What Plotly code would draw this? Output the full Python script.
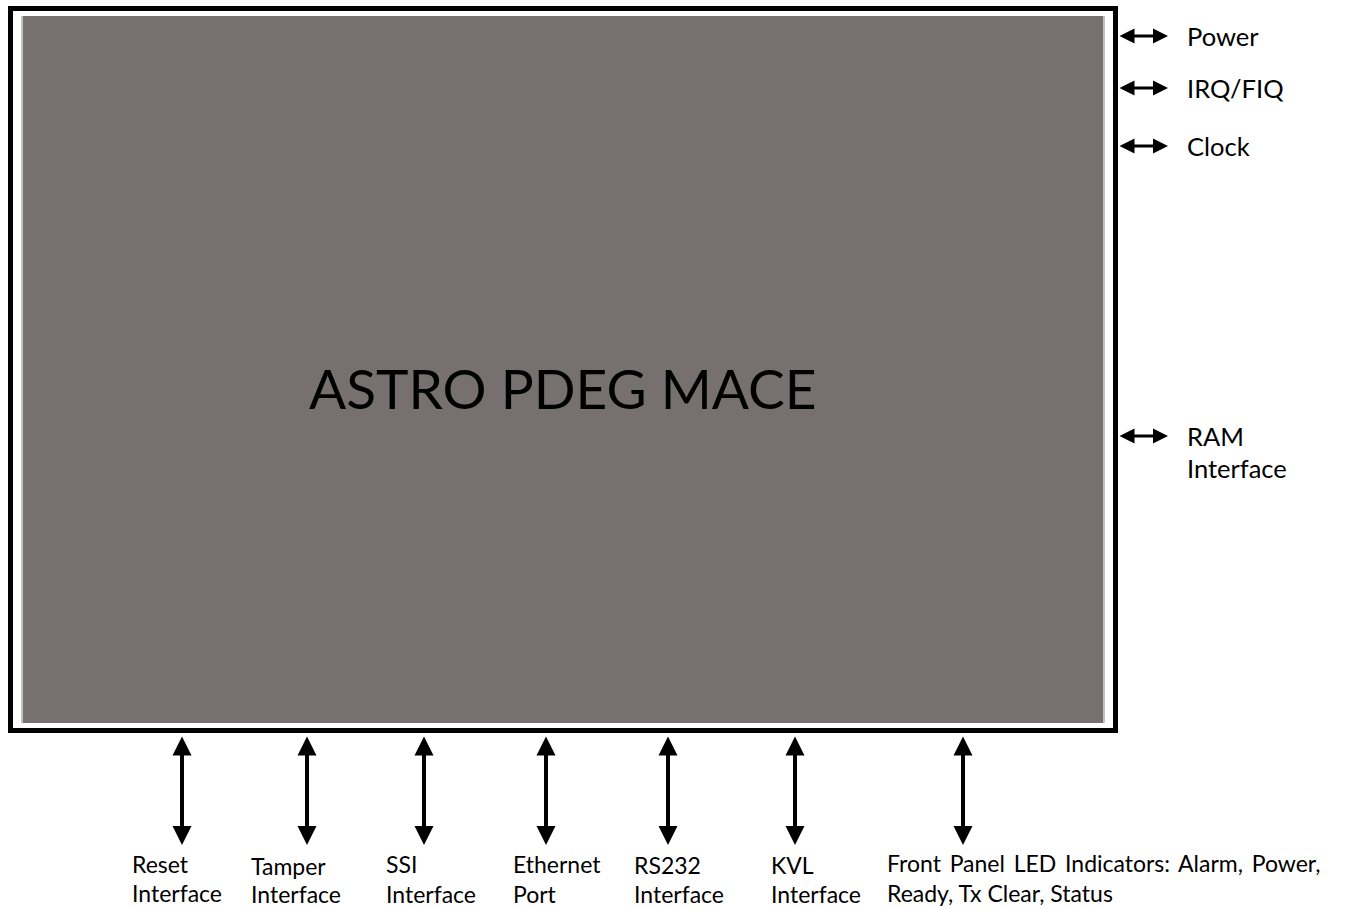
import plotly.graph_objects as go

W, H = 1354, 909
FONT = "Lato"

# Block
block_title = "ASTRO PDEG MACE"
outer_box = dict(x0=10.5, y0=8.5, x1=1115.5, y1=730.5)
inner_box = dict(x0=22, y0=16, x1=1104, y1=723)
fill_color = "#767170"
edge_color = "#c4c2c1"

# Right-side interfaces (label lines, arrow y)
right_labels = [["Power"], ["IRQ/FIQ"], ["Clock"], ["RAM", "Interface"]]
right_arrow_y = [36, 88, 146, 436]
right_arrow_x = (1118, 1168)
right_text_x = 1186
right_line_gap = 32

# Bottom interfaces
bottom_labels = [["Reset", "Interface"], ["Tamper", "Interface"], ["SSI", "Interface"],
                 ["Ethernet", "Port"], ["RS232", "Interface"], ["KVL", "Interface"],
                 ["Front\u2009 Panel\u2009 LED\u2009 Indicators:\u2009 Alarm,\u2009 Power,",
                  "Ready, Tx Clear, Status"]]
bottom_arrow_x = [182, 307, 424, 546, 668, 795, 963]
bottom_text_x = [131, 250, 385, 512, 633, 770, 886]
bottom_text_y = [(864, 893), (866, 894), (864, 894), (864, 894), (865, 894), (865, 894), (863, 893)]
bottom_arrow_y = (735, 845)

fig = go.Figure()
fig.add_trace(go.Scatter(x=[0, W], y=[0, H], mode="markers", marker=dict(opacity=0),
                         hoverinfo="skip", showlegend=False))

shapes = [
    dict(type="rect", xref="x", yref="y", line=dict(color="black", width=5),
         fillcolor="white", **outer_box),
    dict(type="rect", xref="x", yref="y", line=dict(width=0),
         fillcolor=fill_color, **inner_box),
    dict(type="line", xref="x", yref="y", x0=inner_box["x0"], x1=inner_box["x0"],
         y0=inner_box["y0"], y1=inner_box["y1"], line=dict(color=edge_color, width=2)),
    dict(type="line", xref="x", yref="y", x0=inner_box["x1"], x1=inner_box["x1"],
         y0=inner_box["y0"], y1=inner_box["y1"], line=dict(color=edge_color, width=2)),
]

ann = []
ann.append(dict(x=(inner_box["x0"] + inner_box["x1"]) / 2, y=388, text=block_title,
                showarrow=False, font=dict(family=FONT, size=55, color="black"),
                xref="x", yref="y", xanchor="center", yanchor="middle"))

for lines, ay in zip(right_labels, right_arrow_y):
    ann.append(dict(x=right_arrow_x[1], y=ay, ax=right_arrow_x[0], ay=ay,
                    xref="x", yref="y", axref="x", ayref="y", text="", showarrow=True,
                    arrowhead=2, arrowside="end+start", arrowsize=1.0, arrowwidth=3,
                    arrowcolor="black", standoff=0, startstandoff=0))
    for i, t in enumerate(lines):
        ann.append(dict(x=right_text_x, y=ay + i * right_line_gap, text=t, showarrow=False,
                        xref="x", yref="y", xanchor="left", yanchor="middle", borderpad=0,
                        font=dict(family=FONT, size=25.5, color="black")))

for lines, axp, tx, ty in zip(bottom_labels, bottom_arrow_x, bottom_text_x, bottom_text_y):
    ann.append(dict(x=axp, y=bottom_arrow_y[1], ax=axp, ay=bottom_arrow_y[0],
                    xref="x", yref="y", axref="x", ayref="y", text="", showarrow=True,
                    arrowhead=2, arrowside="end+start", arrowsize=0.95, arrowwidth=4,
                    arrowcolor="black", standoff=0, startstandoff=0))
    for t, yy in zip(lines, ty):
        ann.append(dict(x=tx, y=yy, text=t, showarrow=False,
                        xref="x", yref="y", xanchor="left", yanchor="middle", borderpad=0,
                        font=dict(family=FONT, size=23, color="black")))

fig.update_layout(width=W, height=H, margin=dict(l=0, r=0, t=0, b=0),
                  paper_bgcolor="white", plot_bgcolor="white",
                  xaxis=dict(range=[0, W], visible=False, fixedrange=True),
                  yaxis=dict(range=[H, 0], visible=False, fixedrange=True),
                  shapes=shapes, annotations=ann, showlegend=False)
fig.write_html("out.html", config={"displayModeBar": False},
               post_script="document.body.style.margin='0';document.body.style.overflow='hidden';")
